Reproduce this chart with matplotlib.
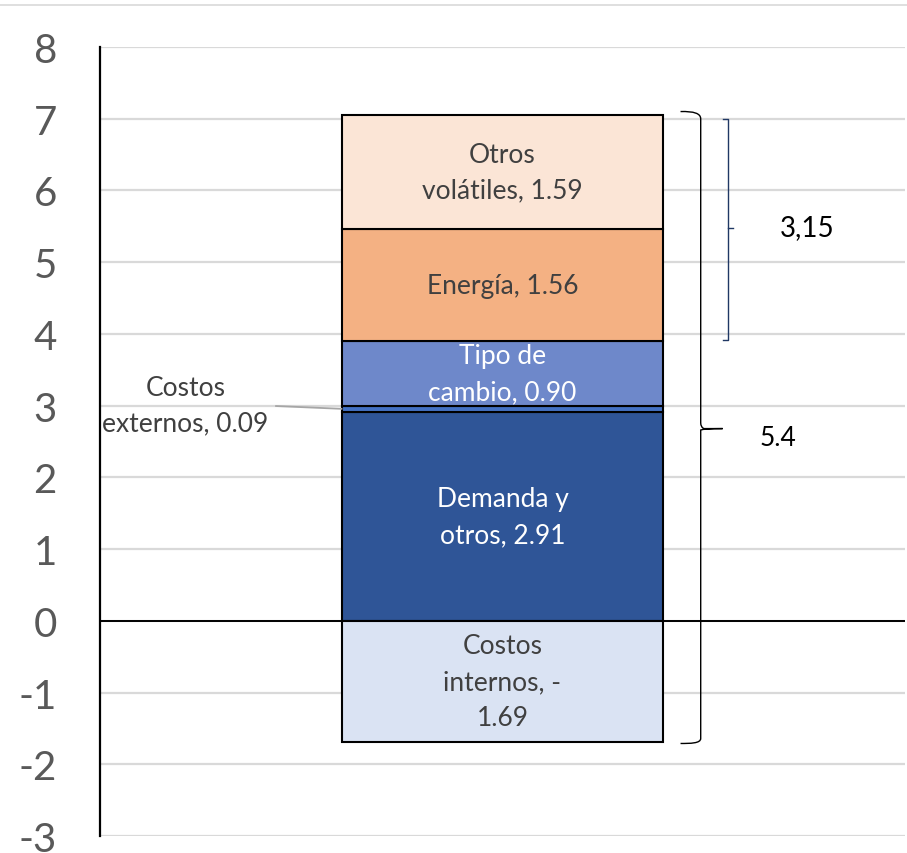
import matplotlib
matplotlib.use("Agg")
import matplotlib.pyplot as plt
from matplotlib.lines import Line2D
from matplotlib.path import Path
from matplotlib.patches import PathPatch

plt.rcParams["font.family"] = ["Lato", "DejaVu Sans"]

# Stack components (bottom to top for positives, then the negative one)
categories = ["Demanda y\notros", "Costos\nexternos", "Tipo de\ncambio",
              "Energía", "Otros\nvolátiles", "Costos\ninternos"]
values = [2.91, 0.09, 0.90, 1.56, 1.59, -1.69]
colors = ["#2F5597", "#4472C4", "#6E88CA", "#F4B183", "#FBE5D6", "#DAE3F3"]
text_colors = ["white", None, "white", "#404040", "#404040", "#404040"]

yticks = list(range(-3, 9))
bracket_labels = ["3,15", "5.4"]

fig = plt.figure(figsize=(9.07, 8.54), dpi=100)
ax = fig.add_axes([100 / 907, 1 - 837 / 854, 805 / 907, (837 - 48) / 854])

ax.set_ylim(-3, 8)
ax.set_xlim(-1.257, 1.257)
ax.set_yticks(yticks)
ax.set_yticklabels([str(t) for t in yticks], fontsize=29, color="#595959")
ax.tick_params(axis="y", length=0, pad=31)
ax.set_xticks([])
for s in ["top", "right", "bottom"]:
    ax.spines[s].set_visible(False)
ax.spines["left"].set_linewidth(1.6)
ax.spines["left"].set_color("black")
ax.yaxis.grid(True, color="#D9D9D9", linewidth=1.6, zorder=0)
ax.set_axisbelow(True)
ax.axhline(0, color="black", linewidth=1.4, zorder=1)

# Stacked bar
pos_base = 0.0
neg_base = 0.0
bounds = []
for cat, v, c in zip(categories, values, colors):
    if v >= 0:
        b = pos_base
        pos_base += v
    else:
        b = neg_base
        neg_base += v
    ax.bar(0, v, bottom=b, width=1.0, color=c, edgecolor="black",
           linewidth=1.5, zorder=3)
    bounds.append((b, b + v))

label_size = 19
label_spacing = 1.55

# Labels inside the bar
for i, (cat, v) in enumerate(zip(categories, values)):
    lo, hi = bounds[i]
    mid = (lo + hi) / 2
    if text_colors[i] is None:
        continue
    if v < 0:
        txt = cat + ", -\n" + "{:.2f}".format(abs(v))
    else:
        txt = cat + ", " + "{:.2f}".format(v)
    ax.text(0, mid, txt, ha="center", va="center", fontsize=label_size,
            color=text_colors[i], linespacing=label_spacing, zorder=4)

# Costos externos: label to the left with a leader line
lo, hi = bounds[1]
ax.text(-0.99, (lo + hi) / 2 + 0.05, categories[1].replace("\n", "\n") + ", " +
        "{:.2f}".format(values[1]),
        ha="center", va="center", fontsize=label_size, color="#404040",
        linespacing=label_spacing, zorder=4)
ax.plot([-0.71, -0.5], [(lo + hi) / 2 + 0.04, (lo + hi) / 2], color="#A6A6A6",
        linewidth=1.3, zorder=4, solid_capstyle="butt")

# Small bracket over Energía + Otros volátiles
top = bounds[4][1]
low = bounds[3][0]
mid = (top + low) / 2
xb = 0.703
ax.plot([0.6875, xb, xb, 0.6875], [top - 0.05, top - 0.05, low + 0.02, low + 0.02],
        color="#203864", linewidth=1.0, zorder=4)
ax.plot([xb, 0.72], [mid, mid], color="#203864", linewidth=1.0, zorder=4)
ax.text(0.95, mid + 0.02, bracket_labels[0], ha="center", va="center",
        fontsize=20, color="black")

# Large curly brace over the whole stack
btop = bounds[4][1]
bbot = bounds[5][1]
bmid = (btop + bbot) / 2
x0, x1, xt = 0.556, 0.619, 0.6875
verts = [
    (x0, btop + 0.05), (x1, btop + 0.06), (x1, btop - 0.05),
    (x1, bmid + 0.08),
    (x1, bmid + 0.02), (x1 + 0.01, bmid), (xt, bmid),
    (x1 + 0.01, bmid), (x1, bmid - 0.02), (x1, bmid - 0.08),
    (x1, bbot + 0.05),
    (x1, bbot - 0.02), (x0 + 0.03, bbot - 0.02), (x0, bbot - 0.02),
]
codes = [Path.MOVETO, Path.CURVE3, Path.CURVE3,
         Path.LINETO,
         Path.CURVE3, Path.CURVE3, Path.LINETO,
         Path.CURVE3, Path.CURVE3, Path.LINETO,
         Path.LINETO,
         Path.CURVE4, Path.CURVE4, Path.CURVE4]
ax.add_patch(PathPatch(Path(verts, codes), facecolor="none", edgecolor="black",
                       linewidth=1.0, zorder=4))
ax.text(0.86, bmid - 0.12, bracket_labels[1], ha="center", va="center",
        fontsize=19, color="black")

# Thin frame line along the top of the canvas
fig.add_artist(Line2D([0, 1], [1 - 6 / 854, 1 - 6 / 854], color="#D9D9D9",
                      linewidth=1.2, transform=fig.transFigure))

fig.savefig("out.png", dpi=100)
